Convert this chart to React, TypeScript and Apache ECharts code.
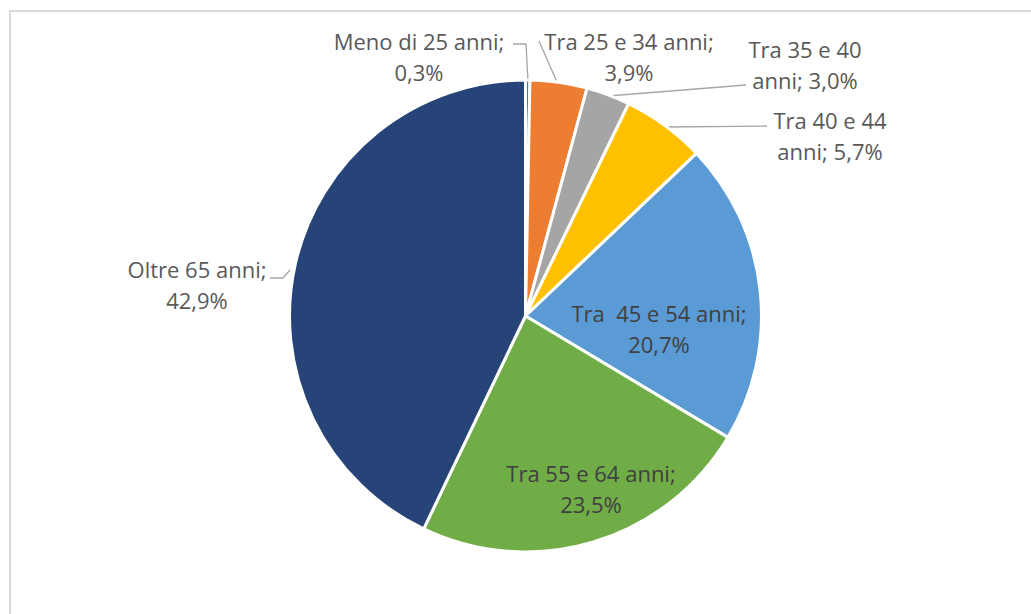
import React, { useEffect, useRef } from "react";
import * as echarts from "echarts";

const categories = [
  "Meno di 25 anni",
  "Tra 25 e 34 anni",
  "Tra 35 e 40 anni",
  "Tra 40 e 44 anni",
  "Tra  45 e 54 anni",
  "Tra 55 e 64 anni",
  "Oltre 65 anni",
];
const values = [0.3, 3.9, 3.0, 5.7, 20.7, 23.5, 42.9];
const colors = ["#4472C4", "#ED7D31", "#A5A5A5", "#FFC000", "#5B9BD5", "#70AD47", "#264478"];
// whether the label wraps before "anni"
const wrapBeforeAnni = [false, false, true, true, false, false, false];
const insideLabel = [false, false, false, false, true, true, false];

// label layout (block centre) and leader line points, in pixels
const labelLayouts: { x: number; y: number; line?: number[][] }[] = [
  { x: 419, y: 56, line: [[513, 44], [526, 44], [528, 81]] },
  { x: 629, y: 56, line: [[539, 41], [557, 82]] },
  { x: 805, y: 64, line: [[746, 85], [608, 96]] },
  { x: 830, y: 135, line: [[767, 126], [666, 127]] },
  { x: 659, y: 328 },
  { x: 591, y: 488 },
  { x: 197, y: 284, line: [[270, 278], [283, 278], [290, 270]] },
];

const fmtPct = (v: number) => v.toFixed(1).replace(".", ",") + "%";

export default function App() {
  const ref = useRef<HTMLDivElement>(null);
  useEffect(() => {
    if (!ref.current) return;
    const chart = echarts.init(ref.current, null, { renderer: "svg" });
    const data = categories.map((name, i) => ({
      name,
      value: values[i],
      itemStyle: { color: colors[i] },
      label: insideLabel[i]
        ? { position: "inside", color: "#404040" }
        : { position: "outside", color: "#595959" },
      labelLine: { show: !insideLabel[i] },
    }));
    chart.setOption({
      animation: false,
      backgroundColor: "#ffffff",
      graphic: [
        {
          type: "rect",
          shape: { x: 10, y: 11, width: 1100, height: 700 },
          style: { fill: "none", stroke: "#dadada", lineWidth: 2 },
          silent: true,
        },
      ],
      series: [
        {
          type: "pie",
          center: [525.5, 316],
          radius: 236,
          startAngle: 90,
          clockwise: true,
          avoidLabelOverlap: false,
          itemStyle: { borderColor: "#ffffff", borderWidth: 3 },
          label: {
            show: true,
            fontFamily: "'Open Sans', sans-serif",
            fontSize: 22,
            lineHeight: 31,
            align: "center",
            formatter: (p: any) => {
              const i = p.dataIndex;
              const pct = fmtPct(values[i]);
              const name = categories[i];
              if (wrapBeforeAnni[i]) {
                return name.replace(/ anni$/, "") + "\nanni; " + pct;
              }
              return name + ";\n" + pct;
            },
          },
          labelLine: {
            show: true,
            lineStyle: { color: "#a6a6a6", width: 1.3 },
            length: 10,
            length2: 10,
          },
          labelLayout: (params: any) => {
            const l = labelLayouts[params.dataIndex];
            const out: any = {
              x: l.x,
              y: l.y,
              align: "center",
              verticalAlign: "middle",
            };
            if (l.line) out.labelLinePoints = l.line;
            return out;
          },
          data,
        },
      ],
    });
    return () => chart.dispose();
  }, []);
  return (
    <div
      ref={ref}
      style={{ position: "fixed", left: 0, top: 0, width: 1031, height: 614 }}
    />
  );
}
